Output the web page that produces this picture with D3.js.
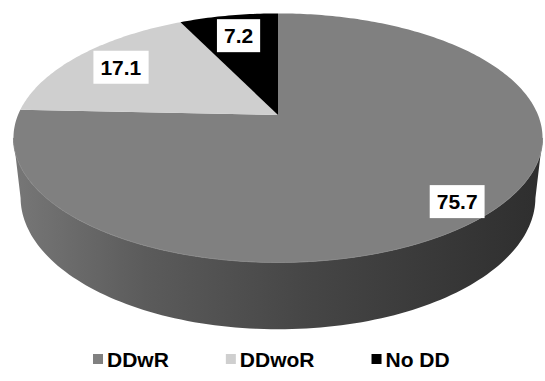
<!DOCTYPE html>
<html>
<head>
<meta charset="utf-8">
<script src="https://cdn.jsdelivr.net/npm/d3@7"></script>
<style>
  body { margin: 0; background: #fff; }
  svg text { font-family: "Liberation Sans", Arial, sans-serif; font-weight: bold; }
</style>
</head>
<body>
<svg id="chart" width="545" height="381"></svg>
<script>
// data
const categories = ["DDwR", "DDwoR", "No DD"];
const values = [75.7, 17.1, 7.2];
const labels = ["75.7", "17.1", "7.2"];
const topColors = ["#808080", "#cfcfcf", "#000000"];

// layout (3d view of the disc)
const width = 545, height = 381;
const cx = 278, cy = 115;          // screen position of pie centre
const fx = 1245, fy = 1215;        // focal lengths
const camDist = 4.788;             // camera distance, in radii
const tilt = 28.3 * Math.PI / 180; // elevation
const depth = 0.27;                // thickness, in radii
const labelRadius = [0.88, 0.78, 0.77];

const svg = d3.select("#chart");

function project(X, Y, Zd) {
    const yUp = Y * Math.cos(tilt) - Zd * Math.sin(tilt);
    const z = camDist - (Zd * Math.cos(tilt) + Y * Math.sin(tilt));
    return [cx + fx * X / z, cy - fy * yUp / z];
}
// a = angle clockwise from 12 o'clock (far side), r in radii, y = height
const onDisc = (a, r, y) => project(r * Math.sin(a), y, -r * Math.cos(a));

const pie = d3.pie().sort(null).value(d => d);
const arcs = pie(values);

const defs = svg.append("defs");
const grad = defs.append("linearGradient")
    .attr("id", "side")
    .attr("gradientUnits", "userSpaceOnUse")
    .attr("x1", 13).attr("x2", 543).attr("y1", 0).attr("y2", 0);
grad.selectAll("stop")
    .data([[0, "#777777"], [0.25, "#5b5b5b"], [0.55, "#464646"], [1, "#2e2e2e"]])
    .join("stop")
    .attr("offset", d => d[0])
    .attr("stop-color", d => d[1]);

const line = d3.line();

// side wall, only the near half is seen
const silA = Math.acos(-Math.cos(tilt) / camDist);
const sideAngles = d3.range(0, 121).map(i => (2 * Math.PI - silA) - i / 120 * (2 * Math.PI - 2 * silA));
const sidePts = sideAngles.map(a => onDisc(a, 1, 0))
    .concat(sideAngles.slice().reverse().map(a => onDisc(a, 1, -depth)));
svg.append("path")
    .attr("d", line(sidePts) + "Z")
    .attr("fill", "url(#side)");

// top faces
svg.selectAll("path.slice")
    .data(arcs)
    .join("path")
    .attr("class", "slice")
    .attr("d", d => {
        const n = Math.max(8, Math.ceil((d.endAngle - d.startAngle) * 60));
        const pts = [onDisc(0, 0, 0)];
        for (let i = 0; i <= n; i++) {
            pts.push(onDisc(d.startAngle + (d.endAngle - d.startAngle) * i / n, 1, 0));
        }
        return line(pts) + "Z";
    })
    .attr("fill", (d, i) => topColors[i]);

// faint rim where top meets the side
const rimPts = sideAngles.map(a => onDisc(a, 1, 0));
svg.append("path")
    .attr("d", line(rimPts))
    .attr("fill", "none")
    .attr("stroke", "#888888")
    .attr("stroke-width", 1);

// data labels
const lbl = svg.selectAll("g.lbl")
    .data(arcs)
    .join("g")
    .attr("class", "lbl")
    .attr("transform", (d, i) => {
        const m = (d.startAngle + d.endAngle) / 2;
        const p = onDisc(m, labelRadius[i], 0);
        return `translate(${p[0]},${p[1]})`;
    });
lbl.append("text")
    .attr("text-anchor", "middle")
    .attr("dy", "0.36em")
    .attr("font-size", 21)
    .attr("fill", "#000")
    .text((d, i) => labels[i]);
lbl.each(function () {
    const g = d3.select(this);
    const b = g.select("text").node().getBBox();
    g.insert("rect", "text")
        .attr("x", b.x - 7)
        .attr("y", -16.5)
        .attr("width", b.width + 14)
        .attr("height", 33)
        .attr("fill", "#fff");
});

// legend
const legend = svg.append("g").attr("transform", "translate(93,359)");
let lx = 0;
categories.forEach((c, i) => {
    const g = legend.append("g").attr("transform", `translate(${lx},0)`);
    g.append("rect")
        .attr("x", 0).attr("y", -5)
        .attr("width", 10).attr("height", 10)
        .attr("fill", topColors[i]);
    const t = g.append("text")
        .attr("x", 14)
        .attr("dy", "0.36em")
        .attr("font-size", 21)
        .text(c);
    lx += 14 + t.node().getComputedTextLength() + 57;
});
</script>
</body>
</html>
